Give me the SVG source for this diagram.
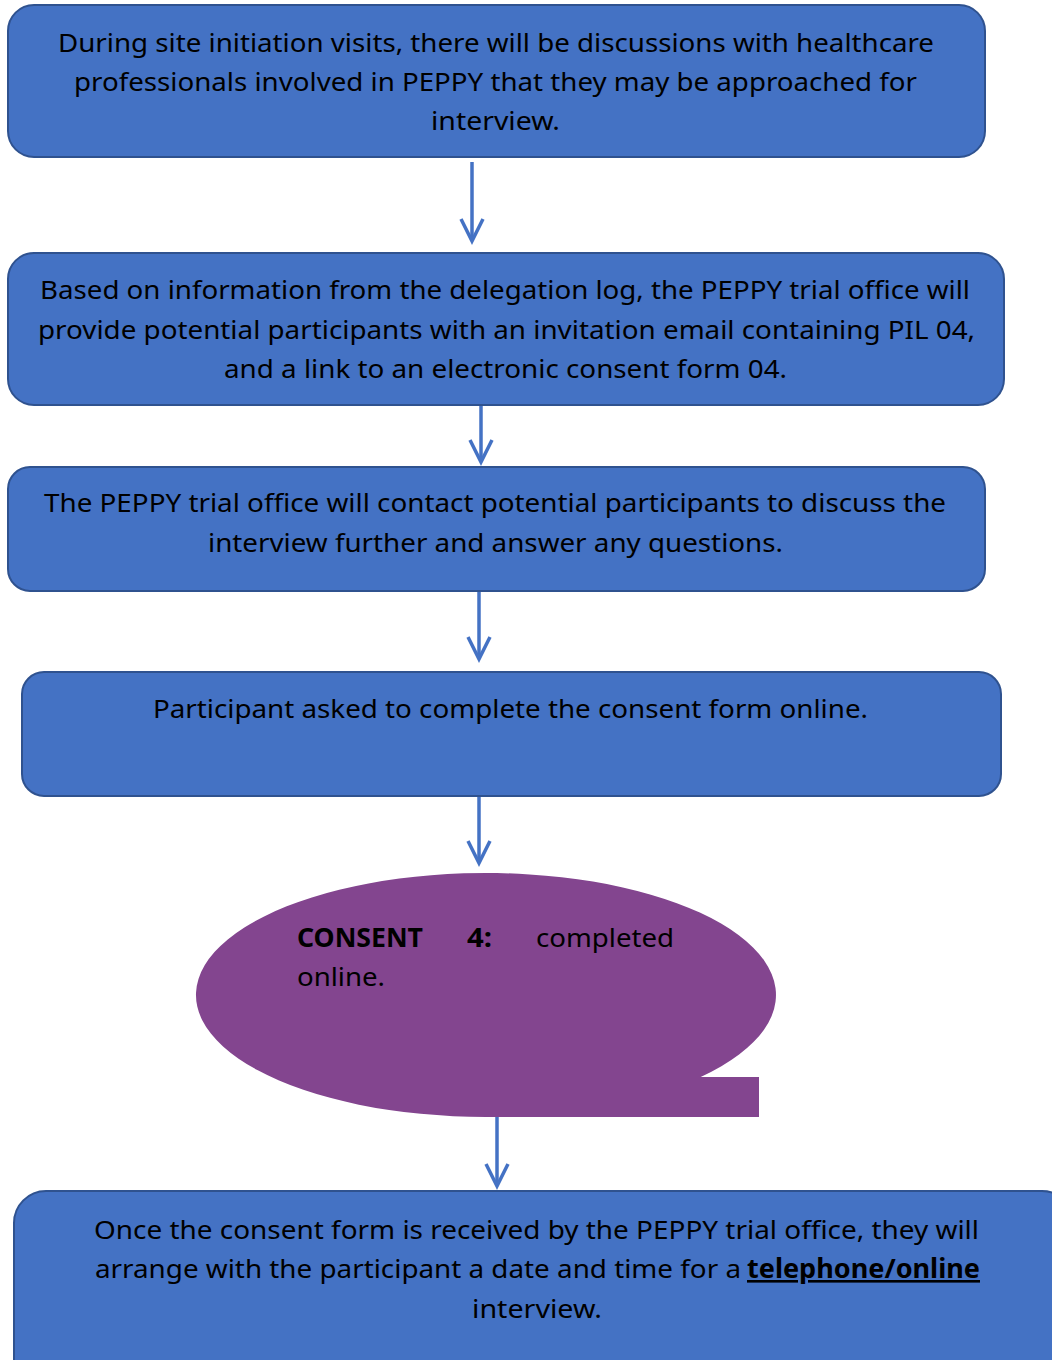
<svg xmlns="http://www.w3.org/2000/svg" width="1052" height="1360" viewBox="0 0 1052 1360">
<style>
.box{fill:#4472C4;stroke:#2F528F;stroke-width:2}
.t{font-family:"Noto Sans","Open Sans",sans-serif;font-size:26px;fill:#000}
.c{text-anchor:middle}
.b{font-weight:bold}
.conn line{stroke:#4472C4;stroke-width:3.5;fill:none}
</style>
<defs>
<marker id="ah" markerUnits="userSpaceOnUse" markerWidth="30" markerHeight="30" viewBox="-26 -15 30 30" refX="0" refY="0" orient="auto">
<path d="M-22,-11 L0,0 L-22,11" fill="none" stroke="#4472C4" stroke-width="3.5"/>
</marker>
</defs>
<rect width="1052" height="1360" fill="#fff"/>
<g id="conn" class="conn">
<line x1="472" y1="162" x2="472" y2="241" marker-end="url(#ah)"/>
<line x1="481" y1="405" x2="481" y2="462" marker-end="url(#ah)"/>
<line x1="479" y1="591" x2="479" y2="659" marker-end="url(#ah)"/>
<line x1="479" y1="796" x2="479" y2="863" marker-end="url(#ah)"/>
<line x1="497" y1="1117" x2="497" y2="1186" marker-end="url(#ah)"/>
</g>
<g id="n1">
<rect class="box" x="8" y="5" width="977" height="152" rx="26"/>
<text class="t" x="58" y="52" textLength="876" lengthAdjust="spacingAndGlyphs">During site initiation visits, there will be discussions with healthcare</text>
<text class="t" x="74" y="91" textLength="843" lengthAdjust="spacingAndGlyphs">professionals involved in PEPPY that they may be approached for</text>
<text class="t" x="431" y="130" textLength="129" lengthAdjust="spacingAndGlyphs">interview.</text>
</g>
<g id="n2">
<rect class="box" x="8" y="253" width="996" height="152" rx="26"/>
<text class="t" x="40" y="299" textLength="930" lengthAdjust="spacingAndGlyphs">Based on information from the delegation log, the PEPPY trial office will</text>
<text class="t" x="38" y="339" textLength="937" lengthAdjust="spacingAndGlyphs">provide potential participants with an invitation email containing PIL 04,</text>
<text class="t" x="224" y="378" textLength="563" lengthAdjust="spacingAndGlyphs">and a link to an electronic consent form 04.</text>
</g>
<g id="n3">
<rect class="box" x="8" y="467" width="977" height="124" rx="22"/>
<text class="t" x="44" y="512" textLength="902" lengthAdjust="spacingAndGlyphs">The PEPPY trial office will contact potential participants to discuss the</text>
<text class="t" x="208" y="552" textLength="575" lengthAdjust="spacingAndGlyphs">interview further and answer any questions.</text>
</g>
<g id="n4">
<rect class="box" x="22" y="672" width="979" height="124" rx="22"/>
<text class="t" x="153" y="718" textLength="715" lengthAdjust="spacingAndGlyphs">Participant asked to complete the consent form online.</text>
</g>
<g id="n5">
<path d="M486,1117 A290,122 0 1 1 700.7,1077 L759,1077 L759,1117 Z" fill="#83458F"/>
<text class="t b" x="297" y="947" textLength="126" lengthAdjust="spacingAndGlyphs">CONSENT</text>
<text class="t b" x="467" y="947" textLength="25" lengthAdjust="spacingAndGlyphs">4:</text>
<text class="t" x="536" y="947" textLength="138" lengthAdjust="spacingAndGlyphs">completed</text>
<text class="t" x="297" y="986" textLength="88" lengthAdjust="spacingAndGlyphs">online.</text>
</g>
<g id="n6">
<rect class="box" x="14" y="1191" width="1060" height="200" rx="32"/>
<text class="t" x="94" y="1239" textLength="885" lengthAdjust="spacingAndGlyphs">Once the consent form is received by the PEPPY trial office, they will</text>
<text class="t" x="95" y="1278" textLength="646" lengthAdjust="spacingAndGlyphs">arrange with the participant a date and time for a</text>
<text class="t b" x="747" y="1278" textLength="233" lengthAdjust="spacingAndGlyphs" text-decoration="underline">telephone/online</text>
<text class="t" x="472" y="1318" textLength="130" lengthAdjust="spacingAndGlyphs">interview.</text>
</g>
</svg>
